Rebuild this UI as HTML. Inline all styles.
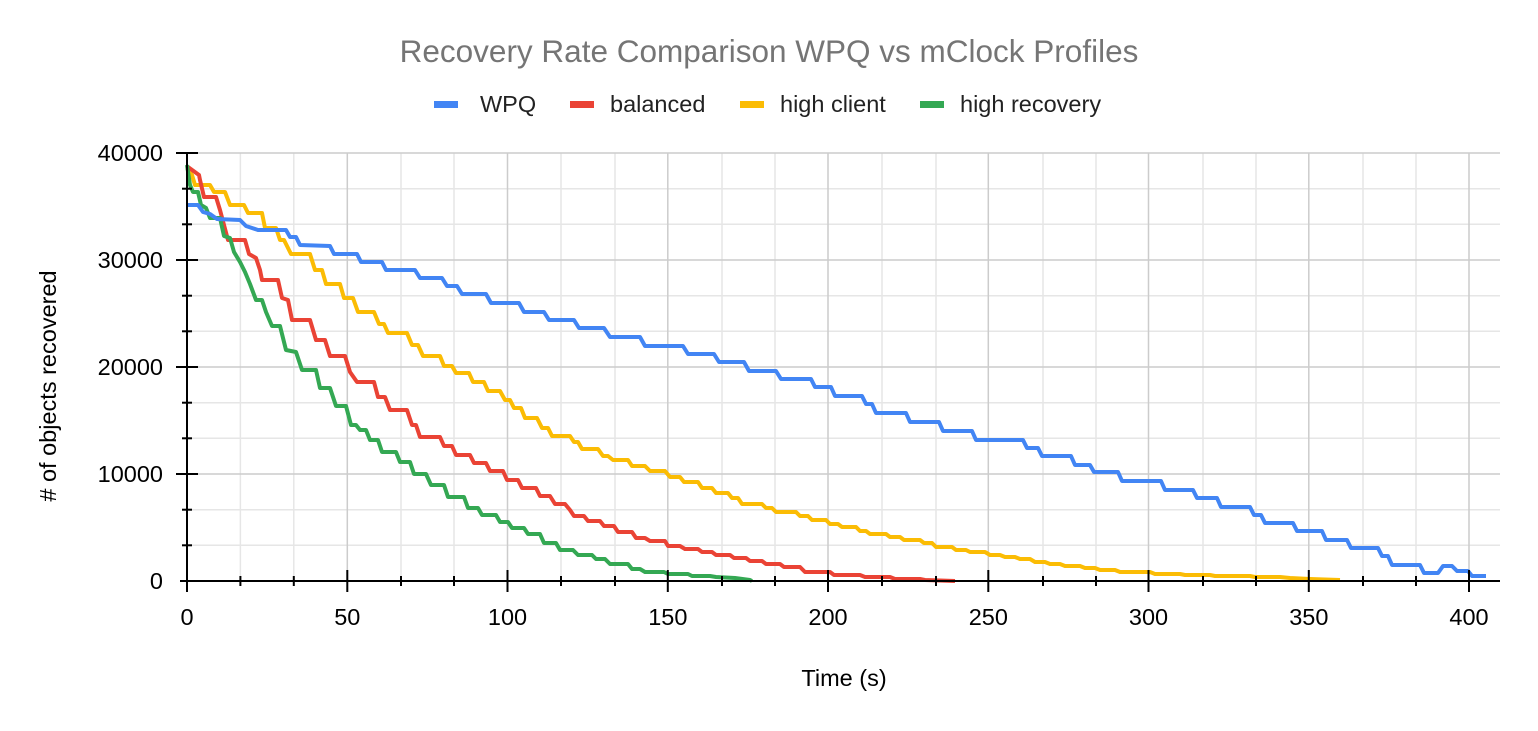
<!DOCTYPE html>
<html><head><meta charset="utf-8"><style>
body{margin:0;background:#fff;font-family:"Liberation Sans",Arial,sans-serif}
</style></head><body>
<svg width="1538" height="726" xmlns="http://www.w3.org/2000/svg" font-family="Liberation Sans, Arial, sans-serif">
<rect width="1538" height="726" fill="#fff"/>
<text x="769" y="62" text-anchor="middle" font-size="31.5" fill="#757575">Recovery Rate Comparison WPQ vs mClock Profiles</text>
<g font-size="23.5" fill="#222">
<rect x="434" y="101" width="24" height="7" fill="#4285f4"/><text x="480" y="112">WPQ</text>
<rect x="570" y="101" width="24" height="7" fill="#ea4335"/><text x="610" y="112">balanced</text>
<rect x="740" y="101" width="24" height="7" fill="#fbbc04"/><text x="780" y="112">high client</text>
<rect x="920" y="101" width="24" height="7" fill="#34a853"/><text x="960" y="112">high recovery</text>
</g>
<g stroke="#e6e6e6" stroke-width="1.5">
<line x1="187" x2="1500" y1="188.7" y2="188.7"/><line x1="187" x2="1500" y1="224.3" y2="224.3"/>
<line x1="187" x2="1500" y1="295.7" y2="295.7"/><line x1="187" x2="1500" y1="331.3" y2="331.3"/>
<line x1="187" x2="1500" y1="402.7" y2="402.7"/><line x1="187" x2="1500" y1="438.3" y2="438.3"/>
<line x1="187" x2="1500" y1="509.7" y2="509.7"/><line x1="187" x2="1500" y1="545.3" y2="545.3"/>
<line x1="240.4" x2="240.4" y1="153" y2="581"/><line x1="293.8" x2="293.8" y1="153" y2="581"/>
<line x1="401" x2="401" y1="153" y2="581"/><line x1="454" x2="454" y1="153" y2="581"/>
<line x1="561" x2="561" y1="153" y2="581"/><line x1="615" x2="615" y1="153" y2="581"/>
<line x1="722" x2="722" y1="153" y2="581"/><line x1="775" x2="775" y1="153" y2="581"/>
<line x1="882" x2="882" y1="153" y2="581"/><line x1="936" x2="936" y1="153" y2="581"/>
<line x1="1043" x2="1043" y1="153" y2="581"/><line x1="1096" x2="1096" y1="153" y2="581"/>
<line x1="1203" x2="1203" y1="153" y2="581"/><line x1="1256" x2="1256" y1="153" y2="581"/>
<line x1="1363" x2="1363" y1="153" y2="581"/><line x1="1416" x2="1416" y1="153" y2="581"/>
</g>
<g stroke="#cccccc" stroke-width="1.5">
<line x1="187" x2="1500" y1="153" y2="153"/><line x1="187" x2="1500" y1="260" y2="260"/>
<line x1="187" x2="1500" y1="367" y2="367"/><line x1="187" x2="1500" y1="474" y2="474"/>
<line x1="347.3" x2="347.3" y1="153" y2="581"/><line x1="507.5" x2="507.5" y1="153" y2="581"/>
<line x1="667.8" x2="667.8" y1="153" y2="581"/><line x1="828" x2="828" y1="153" y2="581"/>
<line x1="988.3" x2="988.3" y1="153" y2="581"/><line x1="1148.5" x2="1148.5" y1="153" y2="581"/>
<line x1="1308.8" x2="1308.8" y1="153" y2="581"/><line x1="1469" x2="1469" y1="153" y2="581"/>
</g>
<g fill="none" stroke-width="4" stroke-linejoin="round">
<polyline stroke="#fbbc04" points="187,168 192,175 195,185 210,185 214,192 225,192 230,205 244,205 248,213 262,213 265,228 276,228 280,240 284,240 291,254 310,254 315,270 322,270 326,284 340,284 344,298 353,298 358,312 374,312 379,324 384,324 388,333 407,333 412,345 418,345 423,356 440,356 444,366 452,366 456,373 469,373 473,382 484,382 488,391 500,391 505,400 510,400 514,408 521,408 525,418 537,418 542,428 548,428 552,436 570,436 574,442 578,442 582,449 598,449 603,456 608,456 613,460 628,460 632,466 645,466 650,471 665,471 670,477 680,477 684,482 698,482 702,488 712,488 716,493 728,493 732,498 738,498 742,504 762,504 766,508 772,508 776,512 796,512 800,516 808,516 812,520 826,520 830,524 838,524 842,527 856,527 860,531 866,531 870,534 886,534 890,537 900,537 904,540 920,540 924,543 932,543 936,547 952,547 956,550 966,550 970,552 985,552 990,555 1000,555 1005,557 1015,557 1020,559 1030,559 1035,562 1045,562 1050,564 1060,564 1065,566 1080,566 1085,568 1095,568 1100,570 1115,570 1120,572 1150,572 1155,574 1180,574 1185,575 1210,575 1215,576 1250,576 1255,577 1280,577 1290,578 1310,579 1340,580"/>
<polyline stroke="#ea4335" points="188,167 199,175 200,180 204,197 216,197 220,210 228,240 245,240 249,254 256,258 260,270 262,280 278,280 282,298 288,300 292,320 310,320 316,340 325,340 330,356 345,356 350,372 357,382 374,382 378,397 385,397 390,410 407,410 412,425 416,425 420,437 440,437 444,446 452,446 456,455 470,455 474,463 486,463 490,471 503,471 507,480 518,480 522,488 536,488 540,496 550,496 555,504 565,504 570,510 574,516 584,516 588,521 600,521 604,526 614,526 618,532 632,532 636,538 645,538 650,541 665,541 668,546 680,546 685,549 698,549 702,552 712,552 716,555 730,555 734,558 746,558 750,561 762,561 766,564 780,564 784,567 800,567 805,572 830,572 834,575 860,575 865,577 890,577 895,579 920,579 925,580 955,581"/>
<polyline stroke="#34a853" points="187,165 190,185 193,192 198,192 201,205 206,208 210,218 220,218 224,236 230,238 234,252 240,262 245,272 250,284 256,300 262,300 266,312 272,326 280,326 286,350 296,352 302,370 316,370 320,388 330,388 336,406 346,406 351,425 356,425 360,430 366,430 370,440 378,440 382,452 396,452 400,462 410,462 414,474 426,474 431,485 444,485 448,497 464,497 468,508 478,508 482,515 496,515 500,522 508,522 512,528 524,528 528,534 540,534 544,543 556,543 560,550 573,550 578,555 592,555 596,559 605,559 610,564 628,564 632,569 640,569 645,572 664,572 668,574 688,574 692,576 710,576 716,577 735,578 750,580 752,581"/>
<polyline stroke="#4285f4" points="187,205 198,205 203,212 210,214 217,219 240,220 246,226 258,230 286,230 290,237 296,237 300,245 330,246 334,254 357,254 361,262 382,262 386,270 415,270 420,278 442,278 447,286 457,286 462,294 486,294 491,303 519,303 524,312 544,312 549,320 574,320 579,328 604,328 610,337 640,337 645,346 683,346 688,354 714,354 719,362 744,362 749,371 776,371 781,379 811,379 815,387 831,387 835,396 862,396 866,404 872,404 876,413 906,413 910,422 939,422 943,431 972,431 976,440 1023,440 1027,448 1038,448 1042,456 1071,456 1075,465 1090,465 1094,472 1118,472 1122,481 1161,481 1165,490 1193,490 1197,498 1217,498 1221,507 1250,507 1254,515 1261,515 1265,523 1293,523 1297,531 1322,531 1326,540 1347,540 1351,548 1378,548 1382,556 1388,556 1392,565 1420,565 1424,573 1438,573 1443,566 1452,566 1457,571 1468,571 1472,576 1486,576"/>
</g>
<g stroke="#000" stroke-width="2">
<line x1="187" x2="187" y1="153" y2="586"/>
<line x1="180" x2="1500" y1="581" y2="581"/>
<line x1="176" x2="198" y1="153" y2="153"/><line x1="176" x2="198" y1="260" y2="260"/>
<line x1="176" x2="198" y1="367" y2="367"/><line x1="176" x2="198" y1="474" y2="474"/>
<line x1="182" x2="192" y1="188.7" y2="188.7"/><line x1="182" x2="192" y1="224.3" y2="224.3"/>
<line x1="182" x2="192" y1="295.7" y2="295.7"/><line x1="182" x2="192" y1="331.3" y2="331.3"/>
<line x1="182" x2="192" y1="402.7" y2="402.7"/><line x1="182" x2="192" y1="438.3" y2="438.3"/>
<line x1="182" x2="192" y1="509.7" y2="509.7"/><line x1="182" x2="192" y1="545.3" y2="545.3"/>
<line x1="187" x2="187" y1="570" y2="592"/>
<line x1="347.3" x2="347.3" y1="570" y2="592"/><line x1="507.5" x2="507.5" y1="570" y2="592"/>
<line x1="667.8" x2="667.8" y1="570" y2="592"/><line x1="828" x2="828" y1="570" y2="592"/>
<line x1="988.3" x2="988.3" y1="570" y2="592"/><line x1="1148.5" x2="1148.5" y1="570" y2="592"/>
<line x1="1308.8" x2="1308.8" y1="570" y2="592"/><line x1="1469" x2="1469" y1="570" y2="592"/>
<line x1="240.4" x2="240.4" y1="576" y2="586"/><line x1="293.8" x2="293.8" y1="576" y2="586"/>
<line x1="401" x2="401" y1="576" y2="586"/><line x1="454" x2="454" y1="576" y2="586"/>
<line x1="561" x2="561" y1="576" y2="586"/><line x1="615" x2="615" y1="576" y2="586"/>
<line x1="722" x2="722" y1="576" y2="586"/><line x1="775" x2="775" y1="576" y2="586"/>
<line x1="882" x2="882" y1="576" y2="586"/><line x1="936" x2="936" y1="576" y2="586"/>
<line x1="1043" x2="1043" y1="576" y2="586"/><line x1="1096" x2="1096" y1="576" y2="586"/>
<line x1="1203" x2="1203" y1="576" y2="586"/><line x1="1256" x2="1256" y1="576" y2="586"/>
<line x1="1363" x2="1363" y1="576" y2="586"/><line x1="1416" x2="1416" y1="576" y2="586"/>
</g>
<g font-size="23.5" fill="#000" text-anchor="end">
<text x="163" y="161">40000</text><text x="163" y="268">30000</text>
<text x="163" y="375">20000</text><text x="163" y="482">10000</text><text x="163" y="589">0</text>
</g>
<g font-size="23.5" fill="#000" text-anchor="middle">
<text x="187" y="625">0</text><text x="347.3" y="625">50</text><text x="507.5" y="625">100</text>
<text x="667.8" y="625">150</text><text x="828" y="625">200</text><text x="988.3" y="625">250</text>
<text x="1148.5" y="625">300</text><text x="1308.8" y="625">350</text><text x="1469" y="625">400</text>
<text x="844" y="686">Time (s)</text>
<text transform="translate(56,386) rotate(-90)"># of objects recovered</text>
</g>
</svg>
</body></html>
